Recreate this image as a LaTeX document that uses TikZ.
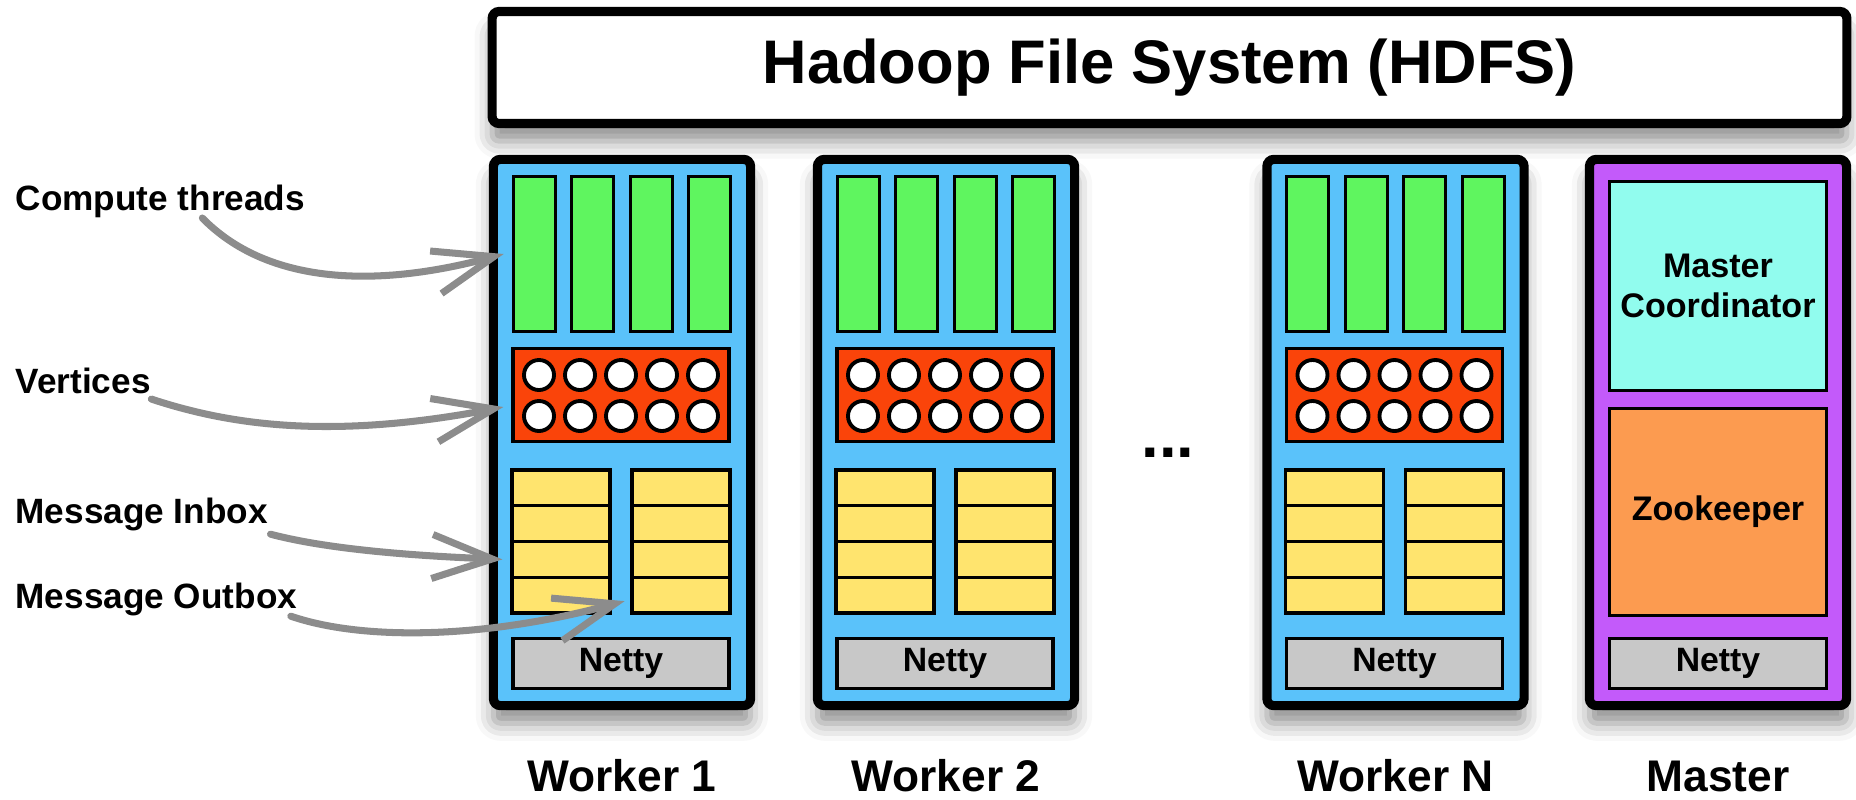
\documentclass[tikz,border=0pt]{standalone}
\usepackage{fontspec}
\setmainfont{Liberation Sans}
\usepackage{tikz}
\usetikzlibrary{arrows.meta,shadows.blur}
\definecolor{workblue}{RGB}{90,194,250}
\definecolor{masterpurple}{RGB}{195,90,250}
\definecolor{threadgreen}{RGB}{95,245,95}
\definecolor{vertexred}{RGB}{250,68,10}
\definecolor{msgyellow}{RGB}{255,228,110}
\definecolor{nettygray}{RGB}{200,200,200}
\definecolor{coordcyan}{RGB}{145,252,238}
\definecolor{zooorange}{RGB}{252,155,80}
\definecolor{pointergray}{RGB}{140,140,140}
\tikzset{
  boxshadow/.style={blur shadow={shadow xshift=0pt,shadow yshift=-5pt,shadow blur radius=5pt,shadow opacity=45}},
  hdfs/.style={rectangle,rounded corners=2pt,draw=black,line width=2.6pt,fill=white,minimum width=13.54cm,minimum height=1.12cm,boxshadow,font=\bfseries\fontsize{17.5}{21}\selectfont},
  worker/.style={rectangle,rounded corners=2pt,draw=black,line width=2.6pt,fill=workblue,minimum width=2.57cm,minimum height=5.46cm,boxshadow},
  master/.style={worker,fill=masterpurple},
  thread/.style={rectangle,draw=black,line width=0.9pt,fill=threadgreen,minimum width=0.42cm,minimum height=1.55cm,inner sep=0pt},
  vpool/.style={rectangle,draw=black,line width=0.9pt,fill=vertexred,minimum width=2.16cm,minimum height=0.93cm,inner sep=0pt},
  vertex/.style={circle,draw=black,line width=1.1pt,fill=white,minimum size=0.3cm,inner sep=0pt},
  msg/.style={rectangle,draw=black,line width=0.9pt,fill=msgyellow,minimum width=0.98cm,minimum height=0.3575cm,inner sep=0pt},
  netty/.style={rectangle,draw=black,line width=0.9pt,fill=nettygray,minimum width=2.16cm,minimum height=0.5cm,inner sep=0pt,font=\bfseries\fontsize{9.6}{11}\selectfont},
  mpart/.style={rectangle,draw=black,line width=0.9pt,minimum width=2.17cm,align=center,inner sep=0pt,font=\bfseries\fontsize{9.7}{11.4}\selectfont},
  sidelbl/.style={anchor=base west,inner sep=0pt,font=\bfseries\fontsize{10}{12}\selectfont},
  namelbl/.style={anchor=base,inner sep=0pt,font=\bfseries\fontsize{12.6}{15}\selectfont},
  pointer/.style={draw=pointergray,line width=2pt,line cap=round,-{Straight Barb[length=6mm,width=4.4mm]}}
}
\begin{document}
\begin{tikzpicture}[x=0.01cm,y=-0.01cm]
  \useasboundingbox (0,0) rectangle (1856,799);

  \node[hdfs] (fs) at (1169.5,67.5) {Hadoop File System (HDFS)};

  % workers
  \foreach \cx/\wid/\wname in {622/1/Worker 1,946/2/Worker 2,1395.5/N/Worker N}{
    \node[worker] (w\wid) at (\cx,432.5) {};
    \foreach \j in {0,...,3}
      \node[thread] (w\wid-t\j) at ({\cx+58.5*(\j-1.5)},254) {};
    \node[vpool] (w\wid-vp) at (\cx-1,395) {};
    \foreach \j in {0,...,4}{
      \node[vertex] (w\wid-va\j) at ({\cx-1+41*(\j-2)},375) {};
      \node[vertex] (w\wid-vb\j) at ({\cx-1+41*(\j-2)},416) {};
    }
    \foreach \k in {1,...,4}{
      \node[msg] (w\wid-in\k) at (\cx-61,{470+35.75*(\k-0.5)}) {};
      \node[msg] (w\wid-out\k) at (\cx+59,{470+35.75*(\k-0.5)}) {};
    }
    \node[netty] (w\wid-net) at (\cx-1,663.5) {Netty};
    \node[namelbl] (w\wid-name) at (\cx,791) {\wname};
  }

  \node[anchor=base,inner sep=0pt,font=\bfseries\fontsize{18}{20}\selectfont] (dots) at (1168,457) {...};

  % master
  \node[master] (m) at (1718,432.5) {};
  \node[mpart,fill=coordcyan,minimum height=2.09cm] (mc) at (1718,286) {Master\\Coordinator};
  \node[mpart,fill=zooorange,minimum height=2.07cm] (zk) at (1718,512) {Zookeeper};
  \node[netty,minimum width=2.17cm] (m-net) at (1718,663.5) {Netty};
  \node[namelbl] (m-name) at (1718,791) {Master};

  % side labels
  \node[sidelbl] (ct) at (15,210) {Compute threads};
  \node[sidelbl] (vt) at (15,393) {Vertices};
  \node[sidelbl] (mi) at (15,523) {Message Inbox};
  \node[sidelbl] (mo) at (15,608) {Message Outbox};

  \draw[pointer] ([xshift=0.42cm]ct.south) .. controls (265,282) and (370,290) .. ([xshift=-0.08cm]w1-t0.west);
  \draw[pointer] ([yshift=-0.05cm]vt.south east) .. controls (230,425) and (330,440) .. ([xshift=-0.08cm,yshift=-0.12cm]w1-vp.west);
  \draw[pointer] ([xshift=0.02cm,yshift=-0.03cm]mi.south east) .. controls (330,550) and (420,556) .. ([xshift=-0.08cm]w1-in3.west);
  \draw[pointer] ([xshift=-0.07cm]mo.south east) .. controls (360,640) and (480,640) .. ([xshift=0.13cm,yshift=-0.06cm]w1-in4.east);
\end{tikzpicture}
\end{document}
